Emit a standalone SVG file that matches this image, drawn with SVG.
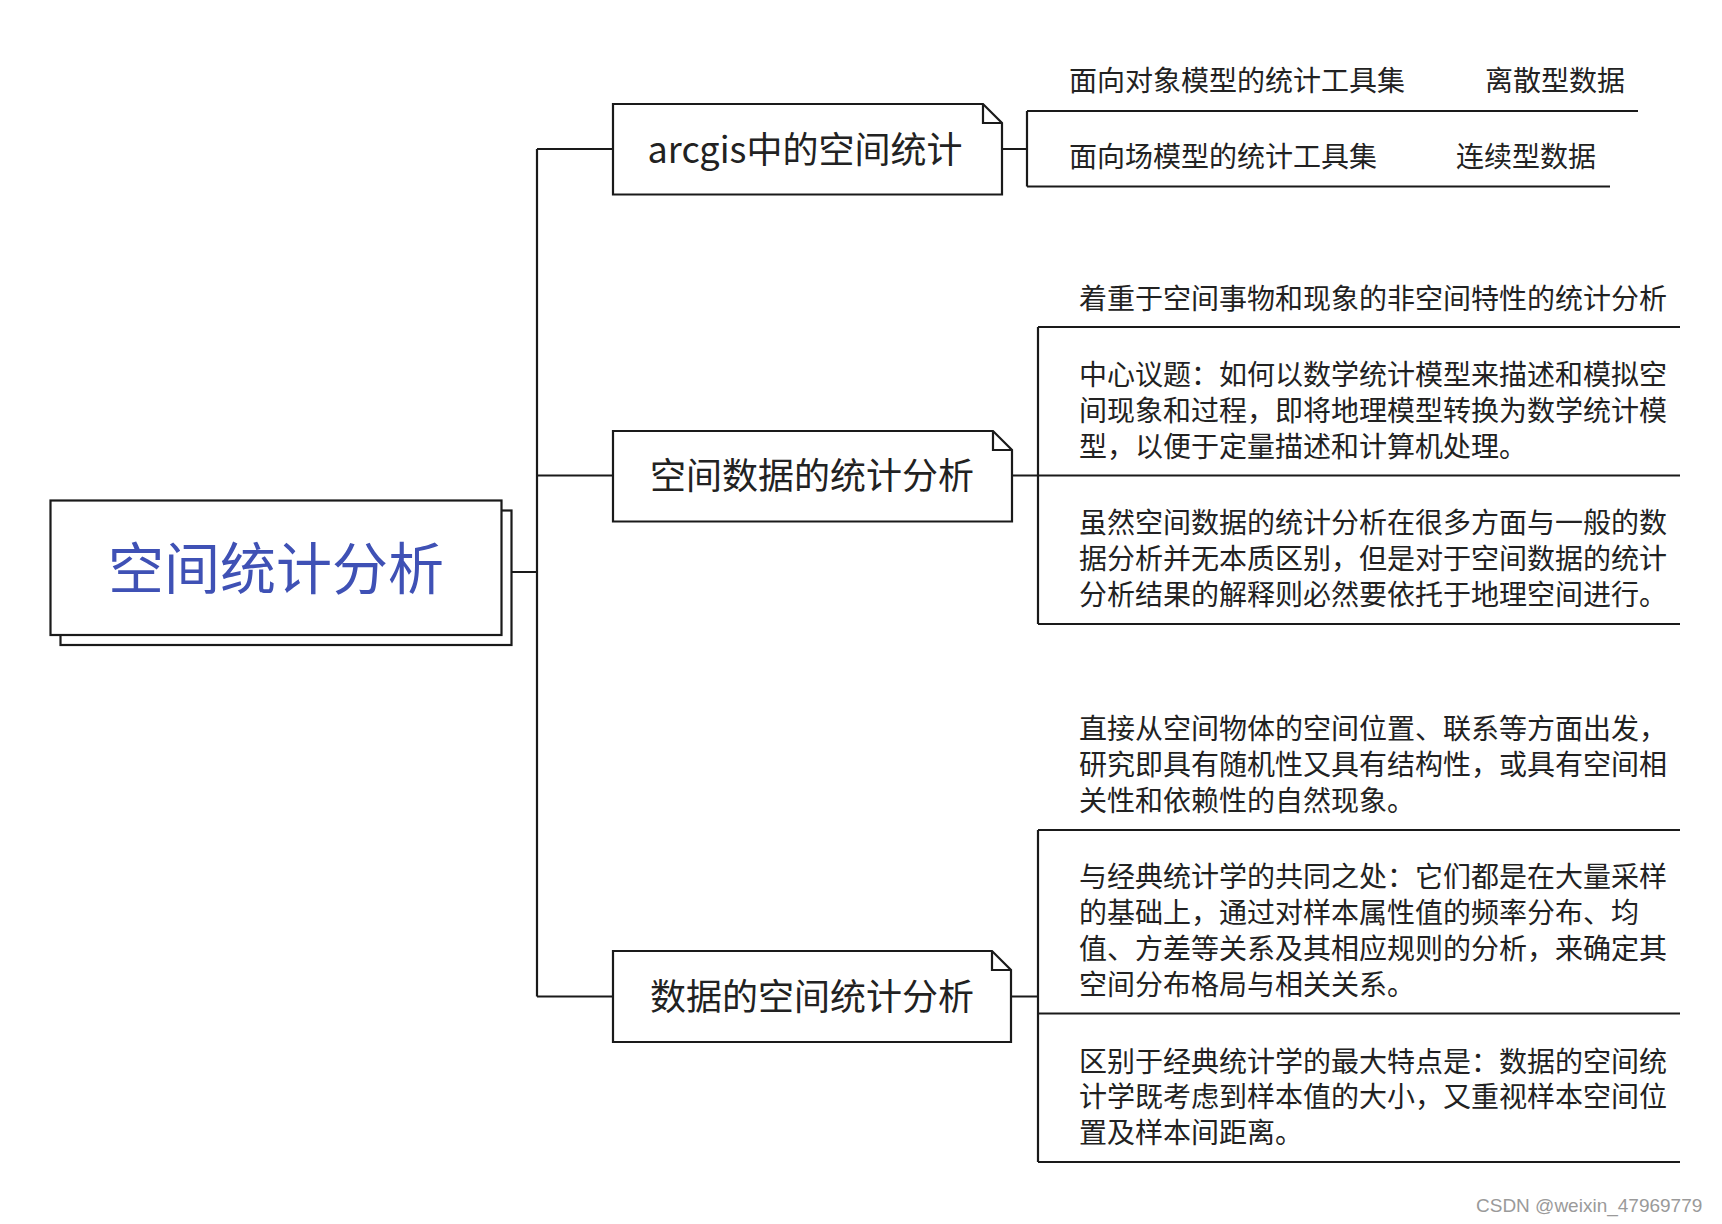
<svg xmlns="http://www.w3.org/2000/svg" width="1722" height="1224" viewBox="0 0 1722 1224">
<style>
.ln{fill:none;stroke:#1a1a1a;stroke-width:2.2}
.box{fill:#fff;stroke:#1a1a1a;stroke-width:2.2}
.t{font-family:"Noto Sans CJK SC","Noto Sans",sans-serif;fill:#222}
.bt{font-size:36px;text-anchor:middle}
.lt{font-size:28px}
.root{font-family:"Noto Sans CJK SC","Noto Sans",sans-serif;font-size:56px;fill:#3F51B5;text-anchor:middle}
</style>
<rect width="1722" height="1224" fill="#fff"/>
<g id="connectors">
<path class="ln" d="M512,572 H537 M537,149 V996.5 M537,149 H613 M537,475.5 H613 M537,996.5 H613"/>
<path class="ln" d="M1002,149 H1027 M1027,111 V186.5 M1027,111 H1638 M1027,186.5 H1610"/>
<path class="ln" d="M1012,475.5 H1038 M1038,327 V624 M1038,327 H1680 M1038,475.5 H1680 M1038,624 H1680"/>
<path class="ln" d="M1011,996.5 H1038 M1038,830 V1162 M1038,830 H1680 M1038,1013.5 H1680 M1038,1162 H1680"/>
</g>
<g id="root">
<rect class="box" x="60.5" y="510.5" width="451" height="134.5"/>
<rect class="box" x="50.5" y="500.5" width="451" height="134.5"/>
<text class="root" x="276" y="589">空间统计分析</text>
</g>
<g id="node-arcgis">
<path class="box" d="M613,104 H983 L1002,123 V194.5 H613 Z"/>
<path class="ln" d="M983,104 V123 H1002"/>
<text class="t bt" x="805" y="162.5">arcgis中的空间统计</text>
</g>
<g id="node-spatial-data">
<path class="box" d="M613,431 H993 L1012,450 V521.5 H613 Z"/>
<path class="ln" d="M993,431 V450 H1012"/>
<text class="t bt" x="812" y="489">空间数据的统计分析</text>
</g>
<g id="node-data-spatial">
<path class="box" d="M613,951 H992 L1011,970 V1042 H613 Z"/>
<path class="ln" d="M992,951 V970 H1011"/>
<text class="t bt" x="812" y="1010">数据的空间统计分析</text>
</g>
<g id="leaf-object">
<text class="t lt" x="1069" y="91">面向对象模型的统计工具集</text>
</g>
<g id="leaf-discrete">
<text class="t lt" x="1485" y="91">离散型数据</text>
</g>
<g id="leaf-field">
<text class="t lt" x="1069" y="167">面向场模型的统计工具集</text>
</g>
<g id="leaf-continuous">
<text class="t lt" x="1456" y="167">连续型数据</text>
</g>
<g id="leaf-b1">
<text class="t lt" x="1079" y="309">着重于空间事物和现象的非空间特性的统计分析</text>
</g>
<g id="leaf-b2">
<text class="t lt" x="1079" y="385">中心议题：如何以数学统计模型来描述和模拟空</text>
<text class="t lt" x="1079" y="421">间现象和过程，即将地理模型转换为数学统计模</text>
<text class="t lt" x="1079" y="457">型，以便于定量描述和计算机处理。</text>
</g>
<g id="leaf-b3">
<text class="t lt" x="1079" y="533">虽然空间数据的统计分析在很多方面与一般的数</text>
<text class="t lt" x="1079" y="569">据分析并无本质区别，但是对于空间数据的统计</text>
<text class="t lt" x="1079" y="605">分析结果的解释则必然要依托于地理空间进行。</text>
</g>
<g id="leaf-c1">
<text class="t lt" x="1079" y="739">直接从空间物体的空间位置、联系等方面出发，</text>
<text class="t lt" x="1079" y="775">研究即具有随机性又具有结构性，或具有空间相</text>
<text class="t lt" x="1079" y="811">关性和依赖性的自然现象。</text>
</g>
<g id="leaf-c2">
<text class="t lt" x="1079" y="887">与经典统计学的共同之处：它们都是在大量采样</text>
<text class="t lt" x="1079" y="923">的基础上，通过对样本属性值的频率分布、均</text>
<text class="t lt" x="1079" y="959">值、方差等关系及其相应规则的分析，来确定其</text>
<text class="t lt" x="1079" y="995">空间分布格局与相关关系。</text>
</g>
<g id="leaf-c3">
<text class="t lt" x="1079" y="1072">区别于经典统计学的最大特点是：数据的空间统</text>
<text class="t lt" x="1079" y="1107">计学既考虑到样本值的大小，又重视样本空间位</text>
<text class="t lt" x="1079" y="1143">置及样本间距离。</text>
</g>
<text x="1476" y="1212" font-family="Liberation Sans, Arial, sans-serif" font-size="19" fill="#9a9a9a">CSDN @weixin_47969779</text>
</svg>
